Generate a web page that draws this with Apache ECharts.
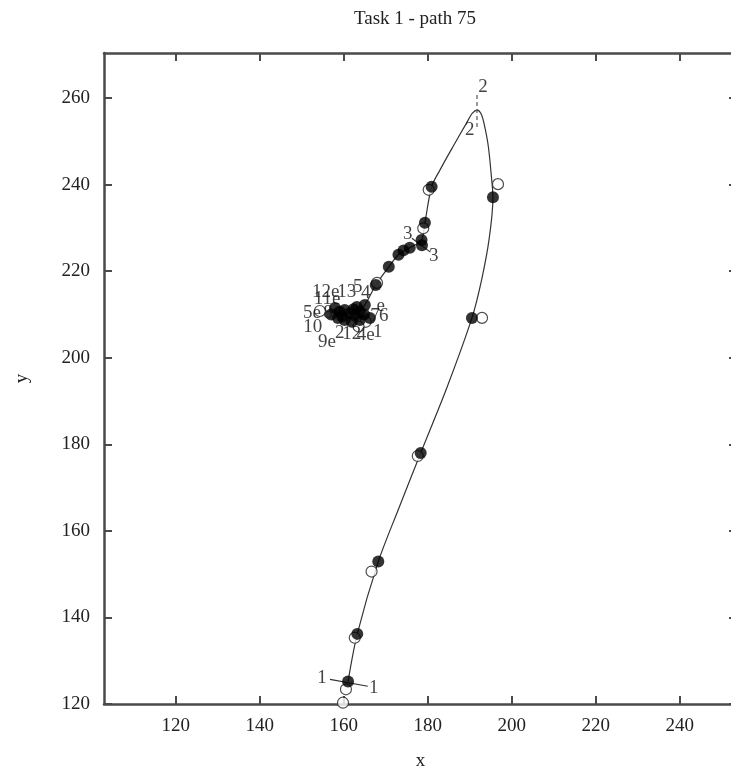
<!DOCTYPE html>
<html>
<head>
<meta charset="utf-8">
<script src="https://cdn.jsdelivr.net/npm/echarts@6/dist/echarts.min.js"></script>
<style>
  html, body { margin: 0; padding: 0; background: #fff; }
  #chart { width: 731px; height: 770px; }
</style>
</head>
<body>
<div id="chart"></div>
<script>
// tick values
const xTicks = [120, 140, 160, 180, 200, 220, 240];
const yTicks = [120, 140, 160, 180, 200, 220, 240, 260];

// the traced stroke
const curve = [
  [161.0, 125.2], [163.2, 136.2], [168.2, 152.9], [173.0, 165.0], [178.3, 178.0],
  [184.5, 193.0], [190.5, 209.2], [192.8, 218.0], [194.6, 227.5], [195.5, 237.1],
  [195.2, 241.1], [194.4, 248.8], [193.4, 254.0], [192.7, 256.3], [191.8, 257.2],
  [190.6, 256.5], [189.2, 254.2], [186.0, 248.8], [182.9, 243.4], [180.9, 239.5],
  [179.3, 231.2], [178.5, 227.2], [175.7, 225.4], [173.0, 223.8], [170.7, 221.0],
  [167.6, 216.8], [165.0, 212.2], [162.6, 210.0]
];

// filled sample points
const filledPts = [
  [161.0, 125.2], [163.2, 136.2], [168.2, 152.9], [178.3, 178.0], [190.5, 209.2],
  [195.5, 237.1], [180.9, 239.5], [179.3, 231.2], [178.5, 227.2], [178.6, 226.0],
  [175.7, 225.4], [174.2, 224.8], [173.0, 223.8], [170.7, 221.0], [167.6, 216.8],
  [165.0, 212.2], [157.9, 211.5], [159.0, 210.6], [160.2, 211.0], [161.4, 210.3],
  [162.6, 209.7], [163.8, 210.6], [163.1, 211.7], [160.2, 208.7], [161.9, 208.3],
  [163.8, 208.7], [158.6, 209.2], [166.2, 209.2], [164.8, 210.0], [157.0, 210.0],
  [159.6, 209.5], [162.3, 211.2]
];

// open sample points
const openPts = [
  [159.8, 120.3], [160.5, 123.4], [162.6, 135.3], [166.6, 150.6], [177.6, 177.3],
  [192.9, 209.2], [196.7, 240.1], [180.2, 238.8], [178.9, 229.9], [167.9, 217.3],
  [154.3, 210.8], [165.2, 208.3], [163.5, 207.2]
];

// segment markers
const mark1 = [[156.7, 125.7], [165.7, 124.1]];
const mark2 = [[191.7, 260.7], [191.7, 252.6]];
const mark3 = [[176.2, 227.6], [180.6, 224.4]];

// text labels and where they sit
const labelTexts = [
  '1', '1', '2', '2', '3', '3',
  '12e', '11e', '13', '5', '4', '5e', '8', 'e', '7', '6',
  '10', '9e', '2', '12', '4e', '1'
];
const labelPos = [
  [154.8, 126.0], [167.1, 123.8], [193.1, 262.6], [190.0, 252.6], [175.2, 228.6], [181.4, 223.5],
  [155.7, 215.2], [156.0, 213.6], [160.7, 215.2], [163.3, 216.4], [165.2, 215.0],
  [152.4, 210.3], [156.2, 210.3], [168.8, 212.0], [167.4, 209.7], [169.5, 209.7],
  [152.6, 207.1], [156.0, 203.6], [159.0, 205.7], [161.9, 205.5], [165.2, 205.3], [168.1, 206.0]
];

const serif = "'Liberation Serif', 'DejaVu Serif', serif";
const axisColor = '#4a4a4a';

const chart = echarts.init(document.getElementById('chart'), null, { renderer: 'canvas' });

const baseX = {
  type: 'value',
  min: 102.9,
  max: 253.6,
  splitLine: { show: false },
  axisLine: { show: true, onZero: false, lineStyle: { color: axisColor, width: 2.5 } },
  axisTick: { show: true, inside: true, length: 8, customValues: xTicks, lineStyle: { color: axisColor, width: 2 } }
};
const baseY = {
  type: 'value',
  min: 120,
  max: 270.4,
  splitLine: { show: false },
  axisLine: { show: true, onZero: false, lineStyle: { color: axisColor, width: 2.5 } },
  axisTick: { show: true, inside: true, length: 8, customValues: yTicks, lineStyle: { color: axisColor, width: 2 } }
};

chart.setOption({
  animation: false,
  backgroundColor: '#fff',
  title: {
    text: 'Task 1 - path 75',
    left: 410,
    top: 5,
    textAlign: 'center',
    textStyle: { fontFamily: serif, fontSize: 19, fontWeight: 'normal', color: '#222' }
  },
  grid: { left: 104, right: -6, top: 53, bottom: 66, outerBoundsMode: 'none' },
  xAxis: [
    Object.assign({}, baseX, {
      position: 'bottom',
      name: 'x',
      nameLocation: 'middle',
      nameGap: 48,
      nameTextStyle: { fontFamily: serif, fontSize: 19, color: '#222' },
      axisLabel: { customValues: xTicks, margin: 13, fontFamily: serif, fontSize: 19, color: '#222' }
    }),
    Object.assign({}, baseX, { position: 'top', axisLabel: { show: false } })
  ],
  yAxis: [
    Object.assign({}, baseY, {
      position: 'left',
      name: 'y',
      nameLocation: 'middle',
      nameGap: 72,
      nameRotate: 90,
      nameTextStyle: { fontFamily: serif, fontSize: 19, color: '#222' },
      axisLabel: { customValues: yTicks, margin: 14, fontFamily: serif, fontSize: 19, color: '#222' }
    }),
    Object.assign({}, baseY, { position: 'right', axisLabel: { show: false } })
  ],
  series: [
    {
      type: 'line',
      data: curve,
      smooth: 0.3,
      symbol: 'none',
      lineStyle: { color: '#333', width: 1.2 },
      z: 2
    },
    {
      type: 'line',
      data: mark1,
      symbol: 'none',
      lineStyle: { color: '#333', width: 1.2 },
      z: 2
    },
    {
      type: 'line',
      data: mark2,
      symbol: 'none',
      lineStyle: { color: '#555', width: 1.2, type: [4, 3] },
      z: 2
    },
    {
      type: 'line',
      data: mark3,
      symbol: 'none',
      lineStyle: { color: '#333', width: 1.2 },
      z: 2
    },
    {
      type: 'scatter',
      data: openPts,
      symbol: 'circle',
      symbolSize: 11,
      itemStyle: { color: '#fff', borderColor: '#222', borderWidth: 1.2 },
      z: 3
    },
    {
      type: 'scatter',
      data: filledPts,
      symbol: 'circle',
      symbolSize: 12,
      itemStyle: { color: '#000' },
      z: 4
    },
    {
      type: 'scatter',
      data: labelPos.map((p, i) => ({ value: p, name: labelTexts[i] })),
      symbolSize: 0,
      label: {
        show: true,
        position: 'inside',
        formatter: (p) => p.name,
        fontFamily: serif,
        fontSize: 19,
        color: '#111'
      },
      z: 5
    }
  ]
});
</script>
</body>
</html>
